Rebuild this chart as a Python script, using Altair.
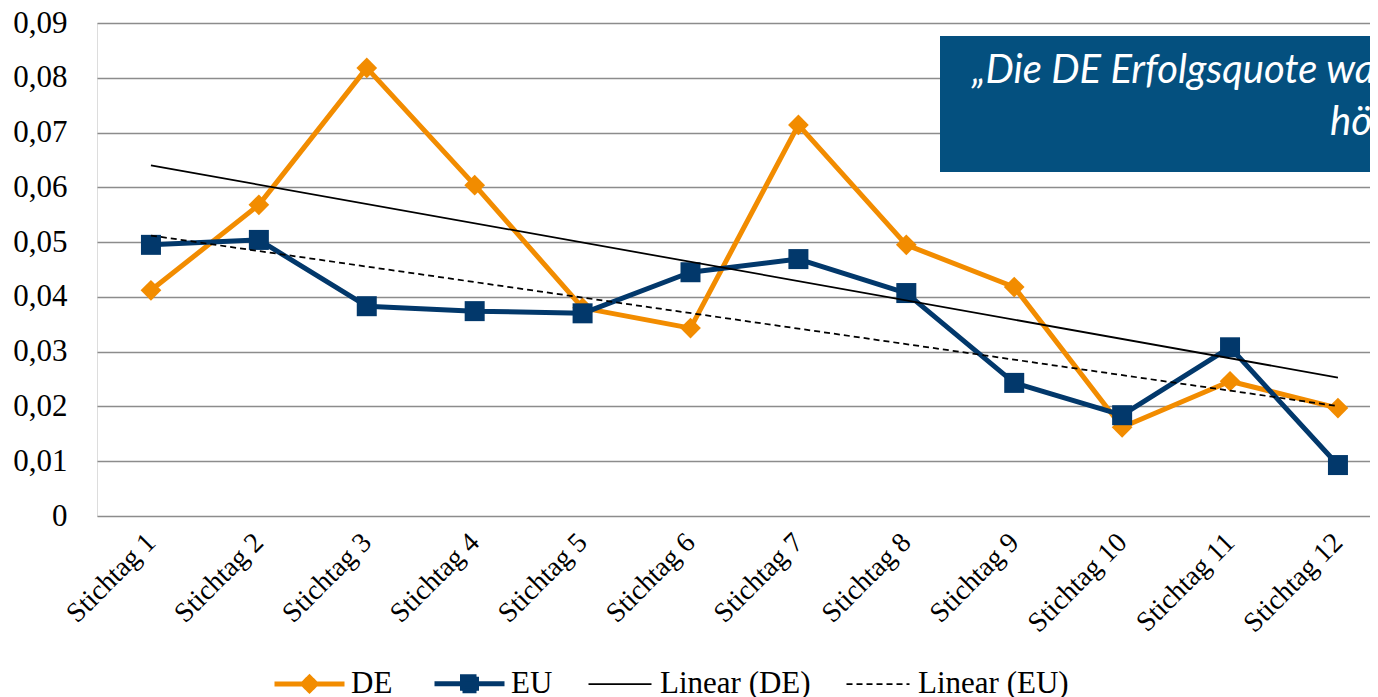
import json
import altair as alt
import pandas as pd

# ---------------- data ----------------
categories = ["Stichtag 1", "Stichtag 2", "Stichtag 3", "Stichtag 4", "Stichtag 5", "Stichtag 6",
              "Stichtag 7", "Stichtag 8", "Stichtag 9", "Stichtag 10", "Stichtag 11", "Stichtag 12"]
positions = [1, 2, 3, 4, 5, 6, 7, 8, 9, 10, 11, 12]
de_values = [0.0412, 0.0568, 0.0818, 0.0604, 0.0380, 0.0343, 0.0714, 0.0495, 0.0418, 0.0162, 0.0246, 0.0197]
eu_values = [0.0495, 0.0504, 0.0383, 0.0374, 0.0370, 0.0445, 0.0469, 0.0407, 0.0243, 0.0184, 0.0308, 0.0093]
y_ticks = [0, 0.01, 0.02, 0.03, 0.04, 0.05, 0.06, 0.07, 0.08, 0.09]
series_names = ["DE", "EU", "Linear (DE)", "Linear (EU)"]
annotation_lines = ["„Die DE Erfolgsquote war", "höher"]

# ---------------- styles ----------------
ORANGE = "#f28c00"
NAVY = "#02386b"
BOX = "#04507f"
SERIF = "Liberation Serif"

rows = []
for p, v in zip(positions, de_values):
    rows.append({"idx": p, "series": "DE", "value": v})
for p, v in zip(positions, eu_values):
    rows.append({"idx": p, "series": "EU", "value": v})
df = pd.DataFrame(rows)

label_expr = json.dumps(categories) + "[datum.value - 1]"

x_enc = alt.X(
    "idx:Q",
    scale=alt.Scale(domain=[0.5, 12.297], nice=False, zero=False),
    axis=alt.Axis(values=positions, labelExpr=label_expr, labelAngle=-45, labelAlign="right",
                  labelBaseline="middle", labelPadding=22, labelOverlap=False, labelBound=False,
                  ticks=False, tickSize=0, domain=False,
                  grid=False, title=None, labelFont=SERIF, labelFontSize=28, labelColor="black"),
)
y_enc = alt.Y(
    "value:Q",
    scale=alt.Scale(domain=[0, 0.09], nice=False),
    axis=alt.Axis(values=y_ticks,
                  labelExpr="datum.value == 0 ? '0' : replace(format(datum.value, '.2f'), '.', ',')",
                  ticks=False, tickSize=0, domain=False, grid=True, gridColor="#8c8c8c", gridWidth=1.5,
                  labelPadding=30, title=None, labelFont=SERIF, labelFontSize=31, labelColor="black"),
)

base = alt.Chart(df)

de_line = base.transform_filter("datum.series == 'DE'").mark_line(
    color=ORANGE, strokeWidth=5, strokeJoin="round").encode(x=x_enc, y=y_enc)
de_pts = base.transform_filter("datum.series == 'DE'").mark_point(
    shape="diamond", filled=True, size=430, color=ORANGE, opacity=1).encode(x=x_enc, y=y_enc)
eu_line = base.transform_filter("datum.series == 'EU'").mark_line(
    color=NAVY, strokeWidth=5, strokeJoin="round").encode(x=x_enc, y=y_enc)
eu_pts = base.transform_filter("datum.series == 'EU'").mark_point(
    shape="square", filled=True, size=400, color=NAVY, opacity=1).encode(x=x_enc, y=y_enc)

trend_de = base.transform_filter("datum.series == 'DE'").transform_regression(
    "idx", "value").mark_line(color="black", strokeWidth=1.75).encode(x=x_enc, y=y_enc)
trend_eu = base.transform_filter("datum.series == 'EU'").transform_regression(
    "idx", "value").mark_line(color="black", strokeWidth=1.75, strokeDash=[6, 4]).encode(x=x_enc, y=y_enc)

# ---------------- legend (from scales) ----------------
legend_colors = [ORANGE, NAVY, "black", "black"]
legend_paths = [
    "M-1,0L1,0M0,-0.19L0.19,0L0,0.19L-0.19,0Z",
    "M-1,0L1,0M-0.2,-0.2L0.2,-0.2L0.2,0.2L-0.2,0.2Z",
    "M-0.9,0L0.9,0",
    "M-0.9,0L0.9,0",
]
legend_widths = [5, 5, 1.75, 1.75]
legend_dashes = [[1, 0], [1, 0], [1, 0], [6, 4]]

leg = alt.Legend(orient="none", legendX=175, legendY=623, direction="horizontal", title=None,
                 symbolSize=4900, labelFont=SERIF, labelFontSize=31, labelColor="black",
                 labelOffset=4, columnPadding=31, labelLimit=400)

legend_layer = base.transform_filter("false").mark_point(filled=True, opacity=1).encode(
    fill=alt.Fill("series:N", scale=alt.Scale(domain=series_names, range=legend_colors), legend=leg),
    stroke=alt.Stroke("series:N", scale=alt.Scale(domain=series_names, range=legend_colors), legend=leg),
    shape=alt.Shape("series:N", scale=alt.Scale(domain=series_names, range=legend_paths), legend=leg),
    strokeWidth=alt.StrokeWidth("series:N", scale=alt.Scale(type="ordinal", domain=series_names,
                                                              range=legend_widths), legend=leg),
    strokeDash=alt.StrokeDash("series:N", scale=alt.Scale(domain=series_names, range=legend_dashes),
                              legend=leg),
)

# ---------------- annotation box ----------------
one = alt.Data(values=[{"a": 1}])
box = alt.Chart(one).mark_rect(color=BOX).encode(
    x=alt.value(843), x2=alt.value(1400), y=alt.value(13), y2=alt.value(149))
txt1 = alt.Chart(one).mark_text(text=annotation_lines[0], align="left", baseline="alphabetic",
                                font="Lato", fontStyle="italic", fontSize=40, color="white").encode(
    x=alt.value(875), y=alt.value(60))
txt2 = alt.Chart(one).mark_text(text=annotation_lines[1], align="left", baseline="alphabetic",
                                font="Lato", fontStyle="italic", fontSize=40, color="white").encode(
    x=alt.value(1233), y=alt.value(112))

chart = alt.layer(
    de_line, de_pts, eu_line, eu_pts, trend_de, trend_eu, legend_layer, box, txt1, txt2
).properties(
    width=1273, height=493,
    autosize=alt.AutoSizeParams(type="none"),
    padding={"left": 89, "top": 15, "right": 0, "bottom": 181},
).configure_view(stroke=None).configure(background="white")

chart.save("out.html", embed_options={"renderer": "svg", "actions": False})
